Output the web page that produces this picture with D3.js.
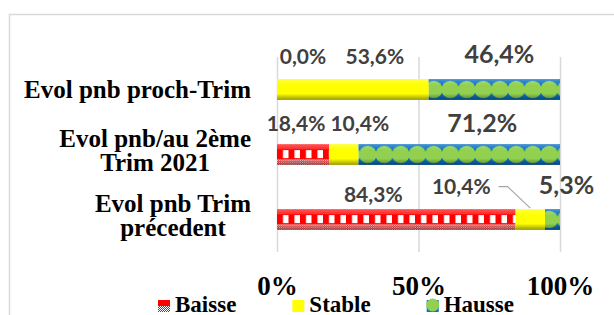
<!DOCTYPE html>
<meta charset="utf-8">
<style type="text/css">
body {
  margin: 0;
  background: #fff;
}
.cat {
  font-family: "Liberation Serif", serif;
  font-weight: bold;
  font-size: 25px;
  fill: #000;
}
.val {
  font-family: Lato, sans-serif;
  font-weight: bold;
  fill: #404040;
}
.axis text {
  font-family: "Liberation Serif", serif;
  font-weight: bold;
  font-size: 27px;
  fill: #000;
}
.axis line {
  stroke: #d9d9d9;
  stroke-width: 1.5;
}
.axis path {
  display: none;
}
.legend text {
  font-family: "Liberation Serif", serif;
  font-weight: bold;
  font-size: 23px;
  fill: #000;
}
</style>
<body>
<svg id="svg" width="614" height="315"></svg>

<script src="https://cdn.jsdelivr.net/npm/d3@7"></script>
<script>
// categories (one entry per bar, split in lines as in the chart)
const categories = [
  ["Evol pnb proch-Trim"],
  ["Evol pnb/au 2ème", "Trim 2021"],
  ["Evol pnb Trim", "précedent"]
];
const series = ["Baisse", "Stable", "Hausse"];
const baisse = [0.0, 18.4, 84.3];
const stable = [53.6, 10.4, 10.4];
const hausse = [46.4, 71.2, 5.3];
const tickValues = [0, 50, 100];

// hand-placed data labels (offset from segment centre / bar top), like the dragged Excel labels
const labelNudge = [
  {Baisse: [26, -15], Stable: [22, -15], Hausse: [5, -16]},
  {Baisse: [-7, -13], Stable: [16, -13], Hausse: [23, -12]},
  {Baisse: [-23, -7], Stable: [-69, -15], Hausse: [14, -15]}
];
const colors = {Stable: "#ffff00", blue: "#0a72c4", green: "#92d050", red: "#ff0000"};

let rows = categories.map((c, i) => ({i: i, Baisse: baisse[i], Stable: stable[i], Hausse: hausse[i]}));
let stacked = d3.stack().keys(series)(rows);

let svg = d3.select("#svg");
let defs = svg.append("defs");

// chart frame
svg.append("rect")
  .attr("x", 9.5).attr("y", 14.5)
  .attr("width", 700).attr("height", 400)
  .attr("fill", "none")
  .attr("stroke", "#d9d9d9")
  .attr("stroke-width", 1.5);

let x = d3.scaleLinear().domain([0, 100]).range([277, 560]);
let y = d3.scaleBand().domain(d3.range(categories.length))
  .range([57, 252])
  .paddingInner(0.68)
  .paddingOuter(0.34);
let bw = y.bandwidth();

// gridlines + tick labels
let axis = svg.append("g")
  .attr("class", "axis")
  .attr("transform", "translate(0,252)")
  .call(d3.axisBottom(x).tickValues(tickValues).tickSize(-195).tickFormat(d => d + "%"));
axis.selectAll("text").attr("y", 43).attr("dy", 0);

// small red/white checker
let chk = defs.append("pattern").attr("id", "chk")
  .attr("patternUnits", "userSpaceOnUse").attr("width", 2).attr("height", 2);
chk.append("rect").attr("width", 2).attr("height", 2).attr("fill", colors.red);
chk.append("rect").attr("width", 1).attr("height", 1).attr("fill", "#fff");
chk.append("rect").attr("x", 1).attr("y", 1).attr("width", 1).attr("height", 1).attr("fill", "#fff");

// patterns per bar so they line up with each bar
rows.forEach(r => {
  let top = y(r.i);
  let pb = defs.append("pattern").attr("id", "baisse" + r.i)
    .attr("patternUnits", "userSpaceOnUse")
    .attr("x", x(0)).attr("y", top).attr("width", 11.5).attr("height", bw);
  pb.append("rect").attr("width", 11.5).attr("height", bw).attr("fill", "url(#chk)");
  pb.append("rect").attr("width", 11.5).attr("height", 5).attr("fill", colors.red).attr("opacity", 0.75);
  pb.append("rect").attr("y", 5).attr("width", 11.5).attr("height", 10).attr("fill", colors.red);
  pb.append("rect").attr("x", 6).attr("y", 6).attr("width", 5.5).attr("height", 8).attr("fill", "#fff");

  let w = 16.5;
  let ph = defs.append("pattern").attr("id", "hausse" + r.i)
    .attr("patternUnits", "userSpaceOnUse")
    .attr("x", x(0)).attr("y", top).attr("width", w).attr("height", bw);
  ph.append("rect").attr("width", w).attr("height", bw).attr("fill", colors.blue);
  [-w / 2, w / 2, 1.5 * w].forEach(cx => {
    ph.append("ellipse").attr("cx", cx).attr("cy", bw / 2)
      .attr("rx", w * 0.53).attr("ry", bw * 0.42).attr("fill", colors.green);
  });
});

// 3D-ish shading on top of each segment
let shade = defs.append("linearGradient").attr("id", "shade")
  .attr("x1", 0).attr("y1", 0).attr("x2", 0).attr("y2", 1);
[[0, "#fff", 0.25], [0.3, "#fff", 0], [0.7, "#000", 0], [1, "#000", 0.4]].forEach(s => {
  shade.append("stop").attr("offset", s[0]).attr("stop-color", s[1]).attr("stop-opacity", s[2]);
});

let fillFor = (key, i) => key == "Stable" ? colors.Stable : "url(#" + key.toLowerCase() + i + ")";

let layer = svg.selectAll(".serie")
  .data(stacked)
  .enter().append("g")
    .attr("class", "serie");
layer.selectAll("rect.seg")
  .data(d => d.map(e => ({key: d.key, i: e.data.i, x0: e[0], x1: e[1], v: e.data[d.key]})))
  .enter().append("rect")
    .attr("class", "seg")
    .attr("x", d => x(d.x0))
    .attr("y", d => y(d.i))
    .attr("width", d => x(d.x1) - x(d.x0))
    .attr("height", bw)
    .attr("fill", d => fillFor(d.key, d.i));
layer.selectAll("rect.shade")
  .data(d => d.map(e => ({i: e.data.i, x0: e[0], x1: e[1]})).filter(e => e.x1 > e.x0))
  .enter().append("rect")
    .attr("class", "shade")
    .attr("x", d => x(d.x0))
    .attr("y", d => y(d.i))
    .attr("width", d => x(d.x1) - x(d.x0))
    .attr("height", bw)
    .attr("fill", "url(#shade)");

// data labels
let fmt = v => d3.format(".1f")(v).replace(".", ",") + "%";
let labels = svg.append("g");
stacked.forEach(s => {
  s.forEach(e => {
    let i = e.data.i;
    let n = labelNudge[i][s.key];
    labels.append("text")
      .attr("class", "val")
      .attr("id", "lab-" + s.key + i)
      .attr("text-anchor", "middle")
      .attr("font-size", s.key == "Hausse" ? 25 : 21)
      .attr("x", x((e[0] + e[1]) / 2) + n[0])
      .attr("y", y(i) + n[1])
      .text(fmt(e.data[s.key]));
  });
});

// leader line for the small Stable slice of the last bar
let lab = svg.select("#lab-Stable2").node().getBBox();
let sx = x((stacked[1][2][0] + stacked[1][2][1]) / 2);
svg.append("path")
  .attr("d", "M" + (lab.x + lab.width + 8) + "," + (lab.y + lab.height / 2 + 1) +
             "h9L" + sx + "," + (y(2) - 1))
  .attr("fill", "none")
  .attr("stroke", "#a6a6a6")
  .attr("stroke-width", 1.2);

// category labels, centred lines, right edge at 251
categories.forEach((lines, i) => {
  let g = svg.append("g");
  let t = g.selectAll("text").data(lines).enter().append("text")
    .attr("class", "cat")
    .attr("text-anchor", "middle")
    .attr("y", (d, k) => y(i) + bw / 2 + 8.5 - (lines.length - 1) * 16.5 + k * 24)
    .text(d => d);
  let maxW = d3.max(t.nodes(), n => n.getComputedTextLength());
  t.attr("x", 251 - maxW / 2);
});

// legend
let legend = svg.append("g").attr("class", "legend");
let lx = 158;
series.forEach(key => {
  let g = legend.append("g").attr("transform", "translate(" + lx + ",0)");
  if (key == "Baisse") {
    g.append("rect").attr("y", 300).attr("width", 12).attr("height", 12).attr("fill", "url(#chk)");
    g.append("rect").attr("y", 300).attr("width", 12).attr("height", 6).attr("fill", colors.red);
  } else if (key == "Stable") {
    g.append("rect").attr("y", 300).attr("width", 12).attr("height", 12).attr("fill", colors.Stable);
  } else {
    g.append("rect").attr("y", 300).attr("width", 12).attr("height", 12).attr("fill", colors.blue);
    g.append("ellipse").attr("cx", 6).attr("cy", 305).attr("rx", 6.5).attr("ry", 6.5).attr("fill", colors.green);
  }
  let t = g.append("text").attr("x", 17).attr("y", 312).text(key);
  lx += 17 + t.node().getComputedTextLength() + 56;
});
</script>
</body>
